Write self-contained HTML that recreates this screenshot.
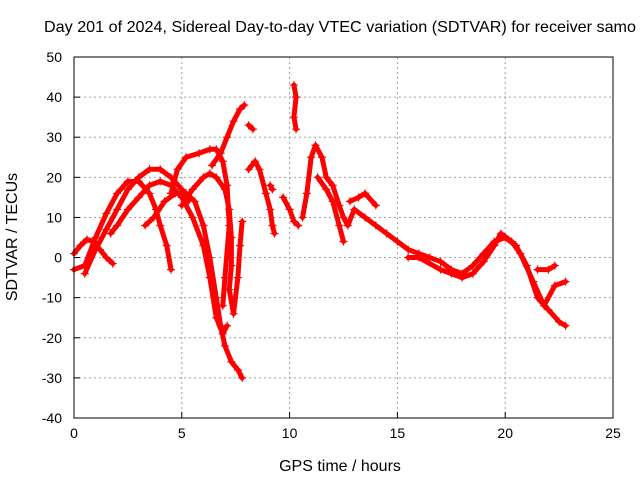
<!DOCTYPE html>
<html><head><meta charset="utf-8"><style>
body{margin:0;background:#fff;width:640px;height:480px;overflow:hidden}
svg text{font-family:"Liberation Sans",sans-serif;font-size:14px;fill:#000}
</style></head><body>
<svg id="chart" width="640" height="480">
<text x="44" y="32" textLength="592" lengthAdjust="spacingAndGlyphs" style="font-size:16px">Day 201 of 2024, Sidereal Day-to-day VTEC variation (SDTVAR) for receiver samo</text>
<text transform="translate(17,237) rotate(-90)" text-anchor="middle" style="font-size:16px">SDTVAR / TECUs</text>
<text x="340" y="471" text-anchor="middle" style="font-size:16px">GPS time / hours</text>
<g id="grid"></g><g id="series"></g><g id="axes"></g>
</svg>
<script>
const xTicks=[0,5,10,15,20,25];
const yTicks=[-40,-30,-20,-10,0,10,20,30,40,50];
const trackA=[[0,1],[0.3,3],[0.6,4.5],[0.9,4],[1.2,2],[1.5,0],[1.8,-1.5]];
const trackB=[[0,-3],[0.5,-2],[1,5],[1.5,11],[2,16],[2.5,19],[3,19],[3.5,16],[3.8,12],[4,8],[4.3,3],[4.5,-3]];
const trackC=[[0.5,-4],[1,2],[1.5,7],[2,12],[2.5,17],[3,20],[3.5,22],[4,22],[4.5,20],[5,17],[5.3,14]];
const trackD=[[1.7,6],[2,8],[2.5,12],[3,15],[3.5,18],[4,19],[4.5,18],[5,15],[5.5,10],[6,3],[6.3,-5],[6.6,-15],[6.9,-19],[7.1,-17]];
const trackE=[[3.3,8],[3.7,10],[4.2,14],[4.7,16],[5.2,16],[5.6,14],[6,8],[6.3,0],[6.6,-10],[6.8,-17],[7,-22],[7.3,-26],[7.6,-28],[7.8,-30]];
const trackF=[[4.5,16],[4.8,22],[5.2,25],[5.8,26],[6.3,27],[6.6,27],[6.9,24],[7.1,18],[7.2,8],[7.0,-5],[6.9,-12]];
const trackG=[[5,13],[5.5,17],[6,20],[6.3,21],[6.6,20],[7,17],[7.2,12],[7.3,5],[7.3,-2],[7.2,-8],[7.4,-14],[7.6,-5],[7.7,3],[7.8,9]];
const trackH=[[6.4,23],[6.8,26],[7.1,30],[7.4,34],[7.7,37],[7.9,38]];
const trackI=[[8.1,33],[8.3,32]];
const trackJ=[[8.1,22],[8.4,24],[8.6,22],[8.9,16],[9.1,12],[9.2,8],[9.3,6]];
const trackK=[[9.7,15],[10,12],[10.2,9],[10.4,8]];
const trackL=[[10.2,43],[10.3,40],[10.2,35],[10.3,32]];
const trackM=[[10.6,10],[10.8,16],[11,25],[11.2,28],[11.5,25],[11.7,20],[12,18],[12.3,13],[12.5,10],[12.7,8],[13,12],[13.5,10],[14,8],[14.5,6],[15,4],[15.5,2],[16,1],[16.5,0],[17,-1],[17.5,-3],[18,-4],[18.5,-2],[19,1],[19.5,4],[20,5],[20.5,3],[21,-2],[21.5,-10],[22,-13],[22.5,-16],[22.8,-17]];
const trackN=[[11.3,20],[11.7,17],[12,14],[12.3,8],[12.5,4]];
const trackO=[[12.8,14],[13.2,15],[13.5,16],[14,13]];
const trackP=[[15.5,0],[16,0],[17,-3],[17.5,-4],[18,-5],[18.5,-4],[19,-1],[19.5,3],[19.8,6],[20.3,4],[20.7,1],[21.3,-6],[21.8,-12],[22.3,-7],[22.8,-6]];
const trackQ=[[21.5,-3],[22,-3],[22.3,-2]];
const trackR=[[9.1,18],[9.2,17]];
const tracks=[trackA,trackB,trackC,trackD,trackE,trackF,trackG,trackH,trackI,trackJ,trackK,trackL,trackM,trackN,trackO,trackP,trackQ,trackR];

const L=74,R=613,T=57,B=418;
const xs=v=>L+(v-0)/25*(R-L);
const ys=v=>B-(v+40)/90*(B-T);
const NS="http://www.w3.org/2000/svg";
function mk(tag,attrs,parent){const e=document.createElementNS(NS,tag);for(const k in attrs)e.setAttribute(k,attrs[k]);parent.appendChild(e);return e;}
const grid=document.getElementById('grid'),axes=document.getElementById('axes'),ser=document.getElementById('series');
xTicks.forEach(t=>{
 if(t>0&&t<25){const g=mk('line',{x1:xs(t),x2:xs(t),y1:T,y2:B,stroke:'#a0a0a0','stroke-dasharray':'2,3','stroke-width':1},grid);
 
 }
 const tk=mk('line',{x1:xs(t),x2:xs(t),y1:B,y2:B-6,stroke:'#000'},axes);
 
 
 const lb=mk('text',{x:xs(t),y:B+20,'text-anchor':'middle'},axes);lb.textContent=t;
 
 
});
yTicks.forEach(t=>{
 if(t>-40&&t<50){const g=mk('line',{x1:L,x2:R,y1:ys(t),y2:ys(t),stroke:'#a0a0a0','stroke-dasharray':'2,3','stroke-width':1},grid);
 
 }
 const tk=mk('line',{x1:L,x2:L+6,y1:ys(t),y2:ys(t),stroke:'#000'},axes);
 
 
 const lb=mk('text',{x:L-12,y:ys(t)+5,'text-anchor':'end'},axes);lb.textContent=t;
 
 
});
const fr=mk('rect',{x:L,y:T,width:R-L,height:B-T,fill:'none',stroke:'#000'},axes);


tracks.forEach((tr,i)=>{
 const pl=mk('polyline',{points:tr.map(p=>xs(p[0])+','+ys(p[1])).join(' '),fill:'none',stroke:'#f00','stroke-width':5,'stroke-linejoin':'round','stroke-linecap':'round'},ser);
 
 
 tr.forEach(p=>{
  const x=xs(p[0]),y=ys(p[1]);
  const m=mk('path',{d:`M${x-4},${y}H${x+4}M${x},${y-4}V${y+4}`,stroke:'#f00','stroke-width':1.2},ser);
  
  
 });
});
</script>
</body></html>
